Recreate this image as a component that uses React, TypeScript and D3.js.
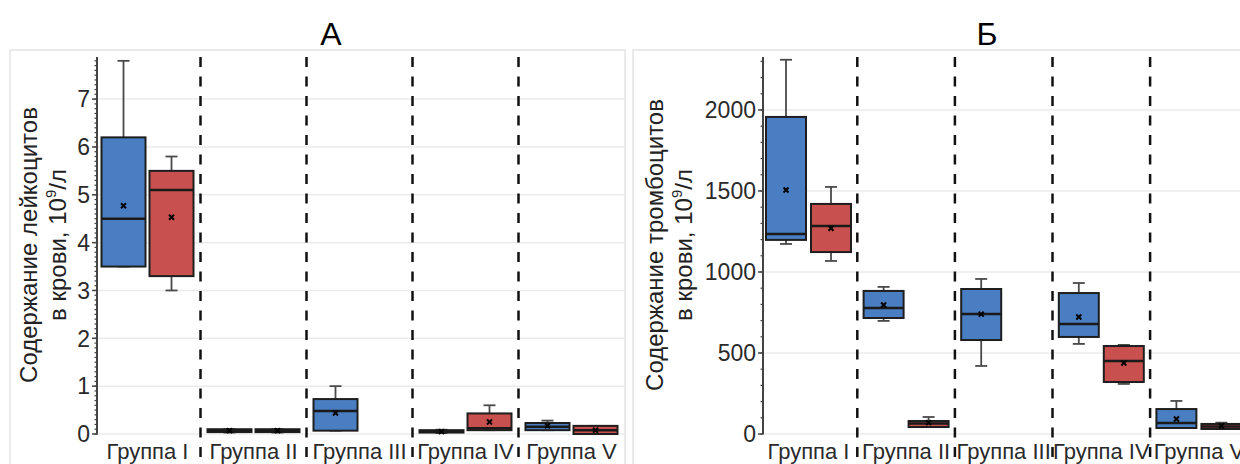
import React from "react";
import * as d3 from "d3";

const groups = ["Группа I", "Группа II", "Группа III", "Группа IV", "Группа V"];
const seriesKeys = ["blue", "red"];
const seriesColors = ["#4a7ec2", "#c8504f"];

// each entry: [min, q1, median, q3, max, mean]; null = no data
const leukoBlue: (number[] | null)[] = [
  [3.5, 3.5, 4.5, 6.2, 7.8, 4.77],
  [0.03, 0.04, 0.07, 0.1, 0.1, 0.07],
  [0.07, 0.07, 0.48, 0.73, 1.0, 0.44],
  [0.02, 0.03, 0.05, 0.08, 0.09, 0.05],
  [0.08, 0.08, 0.15, 0.23, 0.28, 0.17],
];
const leukoRed: (number[] | null)[] = [
  [3.0, 3.3, 5.1, 5.5, 5.8, 4.53],
  [0.03, 0.04, 0.07, 0.1, 0.1, 0.07],
  null,
  [0.08, 0.08, 0.12, 0.43, 0.6, 0.25],
  [0.0, 0.0, 0.08, 0.17, 0.17, 0.08],
];
const plateBlue: (number[] | null)[] = [
  [1173, 1198, 1234, 1957, 2310, 1506],
  [698, 716, 778, 883, 908, 796],
  [420, 580, 741, 895, 957, 740],
  [556, 599, 679, 870, 932, 722],
  [37, 37, 68, 154, 204, 93],
];
const plateRed: (number[] | null)[] = [
  [1068, 1123, 1284, 1420, 1525, 1270],
  [43, 43, 65, 80, 105, 70],
  null,
  [309, 321, 451, 543, 550, 438],
  [31, 31, 46, 62, 70, 50],
];

const leukoTicks = [0, 1, 2, 3, 4, 5, 6, 7];
const plateTicks = [0, 500, 1000, 1500, 2000];

const FONT = "'Liberation Sans', Arial, sans-serif";

type PanelProps = {
  title: string;
  titleX: number;
  titleLine1: string;
  titleLine2a: string;
  titleLine2b: string;
  titleLine2sup: string;
  titleLine2c: string;
  titleX1: number;
  titleX2: number;
  panelX0: number;
  panelX1: number;
  axisX: number;
  bandStart: number;
  bandWidth: number;
  boxOffset: number;
  boxWidth: number;
  yMax: number;
  ticks: number[];
  minorStep: number;
  data: (number[] | null)[][];
};

function Panel(p: PanelProps) {
  const yTop = 57;
  const yBottom = 434;
  const x = d3
    .scaleBand<string>()
    .domain(groups)
    .range([p.bandStart, p.bandStart + p.bandWidth * groups.length])
    .padding(0);
  const y = d3.scaleLinear().domain([0, p.yMax]).range([yBottom, yTop]);
  const minor = d3.range(0, p.yMax + 1e-9, p.minorStep);
  const capW = 12;

  return (
    <g>
      <rect
        x={p.panelX0}
        y={50}
        width={p.panelX1 - p.panelX0}
        height={430}
        fill="white"
        stroke="#e3e3e3"
        strokeWidth={1.5}
      />
      <text
        x={p.titleX}
        y={45}
        textAnchor="middle"
        fontFamily={FONT}
        fontSize={32}
        fill="#000"
      >
        {p.title}
      </text>
      {/* grid */}
      {p.ticks.map((t) => (
        <line
          key={"g" + t}
          x1={p.axisX}
          x2={p.panelX1}
          y1={y(t)}
          y2={y(t)}
          stroke="#ebebeb"
          strokeWidth={1.5}
        />
      ))}
      {/* separators */}
      {groups.slice(1).map((g) => (
        <line
          key={"s" + g}
          x1={x(g)!}
          x2={x(g)!}
          y1={yTop}
          y2={470}
          stroke="#111"
          strokeWidth={2.5}
          strokeDasharray="10,9.5"
        />
      ))}
      {/* axis */}
      <line x1={p.axisX} x2={p.axisX} y1={yTop} y2={yBottom} stroke="#444" strokeWidth={2} />
      {minor.map((m, i) => (
        <line
          key={"m" + i}
          x1={p.axisX - 2.5}
          x2={p.axisX + 1}
          y1={y(m)}
          y2={y(m)}
          stroke="#444"
          strokeWidth={1.2}
        />
      ))}
      {p.ticks.map((t) => (
        <g key={"t" + t}>
          <line x1={p.axisX - 5} x2={p.axisX} y1={y(t)} y2={y(t)} stroke="#444" strokeWidth={1.5} />
          <text
            x={p.axisX - 7}
            y={y(t)}
            dy="0.36em"
            textAnchor="end"
            fontFamily={FONT}
            fontSize={23}
            fill="#2a2a2a"
          >
            {t}
          </text>
        </g>
      ))}
      {/* y title */}
      <text
        transform={`translate(${p.titleX1},245) rotate(-90)`}
        textAnchor="middle"
        fontFamily={FONT}
        fontSize={24}
        fill="#222"
      >
        {p.titleLine1}
      </text>
      <text
        transform={`translate(${p.titleX2},245) rotate(-90)`}
        textAnchor="middle"
        fontFamily={FONT}
        fontSize={24}
        fill="#222"
      >
        {p.titleLine2a}
        <tspan>{p.titleLine2b}</tspan>
        <tspan fontSize={15} dy={-10}>
          {p.titleLine2sup}
        </tspan>
        <tspan dy={10}>{p.titleLine2c}</tspan>
      </text>
      {/* boxes */}
      {groups.map((g, gi) => {
        const cx0 = x(g)! + x.bandwidth() / 2;
        return p.data.map((ser, si) => {
          const d = ser[gi];
          if (!d) return null;
          const [mn, q1, md, q3, mx, mean] = d;
          const cx = cx0 + (si === 0 ? -p.boxOffset : p.boxOffset);
          const bx = cx - p.boxWidth / 2;
          return (
            <g key={g + seriesKeys[si]}>
              <line x1={cx} x2={cx} y1={y(q3)} y2={y(mx)} stroke="#4a4a4a" strokeWidth={1.8} />
              <line x1={cx} x2={cx} y1={y(q1)} y2={y(mn)} stroke="#4a4a4a" strokeWidth={1.8} />
              <line x1={cx - capW / 2} x2={cx + capW / 2} y1={y(mx)} y2={y(mx)} stroke="#4a4a4a" strokeWidth={1.8} />
              <line x1={cx - capW / 2} x2={cx + capW / 2} y1={y(mn)} y2={y(mn)} stroke="#4a4a4a" strokeWidth={1.8} />
              <rect
                x={bx}
                y={y(q3)}
                width={p.boxWidth}
                height={Math.max(y(q1) - y(q3), 0.5)}
                fill={seriesColors[si]}
                stroke="#1e1e1e"
                strokeWidth={2}
              />
              <line x1={bx} x2={bx + p.boxWidth} y1={y(md)} y2={y(md)} stroke="#1a1a1a" strokeWidth={2.5} />
              <path
                d={`M${cx - 2.5},${y(mean) - 2.5}L${cx + 2.5},${y(mean) + 2.5}M${cx - 2.5},${y(mean) + 2.5}L${cx + 2.5},${y(mean) - 2.5}`}
                stroke="#000"
                strokeWidth={2}
              />
            </g>
          );
        });
      })}
      {/* group labels */}
      {groups.map((g) => (
        <text
          key={"l" + g}
          x={x(g)! + x.bandwidth() / 2}
          y={458.5}
          textAnchor="middle"
          fontFamily={FONT}
          fontSize={22}
          fill="#2a2a2a"
        >
          {g}
        </text>
      ))}
    </g>
  );
}

export default function App() {
  return (
    <svg
      width={1240}
      height={464}
      style={{ position: "absolute", left: 0, top: 0, background: "white" }}
    >
      <rect x={0} y={0} width={1240} height={464} fill="white" />
      <Panel
        title="А"
        titleX={331}
        titleLine1="Содержание лейкоцитов"
        titleLine2a="в крови, "
        titleLine2b="10"
        titleLine2sup="9"
        titleLine2c="/л"
        titleX1={37}
        titleX2={66}
        panelX0={10}
        panelX1={625}
        axisX={97}
        bandStart={94.5}
        bandWidth={106}
        boxOffset={24}
        boxWidth={44}
        yMax={7.88}
        ticks={leukoTicks}
        minorStep={0.1}
        data={[leukoBlue, leukoRed]}
      />
      <Panel
        title="Б"
        titleX={987}
        titleLine1="Содержание тромбоцитов"
        titleLine2a="в крови, "
        titleLine2b="10"
        titleLine2sup="9"
        titleLine2c="/л"
        titleX1={663}
        titleX2={692}
        panelX0={633}
        panelX1={1260}
        axisX={763}
        bandStart={759.7}
        bandWidth={97.6}
        boxOffset={22.5}
        boxWidth={40}
        yMax={2327}
        ticks={plateTicks}
        minorStep={100}
        data={[plateBlue, plateRed]}
      />
    </svg>
  );
}
